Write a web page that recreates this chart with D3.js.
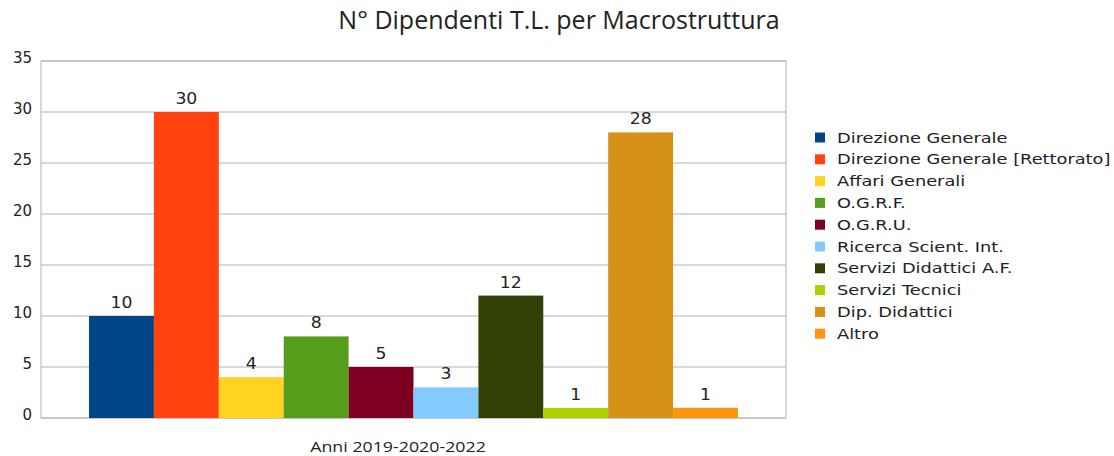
<!DOCTYPE html>
<html>
<head>
<meta charset="utf-8">
<script src="https://cdn.jsdelivr.net/npm/d3@7"></script>
<style>
  body { margin: 0; background: #fff; }
  text { fill: #222; }
</style>
</head>
<body>
<div id="chart"></div>
<script>
'use strict';

var categories = ['Direzione Generale', 'Direzione Generale [Rettorato]', 'Affari Generali',
  'O.G.R.F.', 'O.G.R.U.', 'Ricerca Scient. Int.', 'Servizi Didattici A.F.',
  'Servizi Tecnici', 'Dip. Didattici', 'Altro'];
var values = [10, 30, 4, 8, 5, 3, 12, 1, 28, 1];
var colors = ['#004586', '#ff420e', '#ffd320', '#579d1c', '#7e0021', '#83caff',
  '#314004', '#aecf00', '#d69118', '#ff950e'];
var yTicks = [0, 5, 10, 15, 20, 25, 30, 35];
var groupLabel = 'Anni 2019-2020-2022';

var width = 1114, height = 456;
var plot = {left: 41, right: 786, top: 61, bottom: 418};
var stretch = 1.27; // the reference text is drawn a little wide

var svg = d3.select('#chart').append('svg')
    .attr('width', width)
    .attr('height', height);

var y = d3.scaleLinear().domain([0, 35]).range([plot.bottom, plot.top]);

// one group band, bars side by side inside it
var x0 = d3.scaleBand().domain([groupLabel])
    .range([plot.left, plot.right]).paddingOuter(0.074).paddingInner(0);
var x1 = d3.scaleBand().domain(categories).range([0, x0.bandwidth()]);

// grid lines
svg.append('g').selectAll('line')
  .data(yTicks)
  .enter().append('line')
    .attr('x1', plot.left).attr('x2', plot.right)
    .attr('y1', function(d) { return y(d); })
    .attr('y2', function(d) { return y(d); })
    .attr('stroke', '#b3b3b3').attr('stroke-width', 1);

// plot border
svg.append('rect')
    .attr('x', plot.left).attr('y', plot.top)
    .attr('width', plot.right - plot.left).attr('height', plot.bottom - plot.top)
    .attr('fill', 'none').attr('stroke', '#b3b3b3');

var yAxis = d3.axisLeft(y).tickValues(yTicks).tickSize(0).tickPadding(9);
var gy = svg.append('g').attr('transform', 'translate(' + plot.left + ',0)').call(yAxis);
gy.select('.domain').remove();
gy.selectAll('text')
    .style('font-family', 'DejaVu Sans').style('font-size', '15px')
    .attr('fill', '#222').attr('dy', '0.1em');

var g = svg.append('g').attr('transform', 'translate(' + x0(groupLabel) + ',0)');

g.selectAll('rect.bar')
  .data(values)
  .enter().append('rect')
    .attr('class', 'bar')
    .attr('x', function(d, i) { return x1(categories[i]); })
    .attr('y', function(d) { return y(d); })
    .attr('width', x1.bandwidth())
    .attr('height', function(d) { return y(0) - y(d); })
    .attr('fill', function(d, i) { return colors[i]; });

g.selectAll('text.val')
  .data(values)
  .enter().append('text')
    .attr('class', 'val')
    .attr('transform', function(d, i) {
      return 'translate(' + (x1(categories[i]) + x1.bandwidth() / 2) + ',' + (y(d) - 8) + ') scale(1.15,1)';
    })
    .attr('text-anchor', 'middle')
    .style('font-family', 'DejaVu Sans').style('font-size', '15px')
    .text(function(d) { return d; });

svg.append('text')
    .attr('transform', 'translate(398,452) scale(' + stretch + ',1)')
    .attr('text-anchor', 'middle')
    .style('font-family', 'Open Sans').style('font-size', '14px')
    .text(groupLabel);

svg.append('text')
    .attr('x', 559)
    .attr('y', 29)
    .attr('text-anchor', 'middle')
    .style('font-family', 'Open Sans').style('font-size', '25px')
    .text('N° Dipendenti T.L. per Macrostruttura');

// legend
var legend = svg.append('g').selectAll('g')
  .data(categories)
  .enter().append('g')
    .attr('transform', function(d, i) { return 'translate(815,' + (137.5 + i * 21.8) + ')'; });

legend.append('rect')
    .attr('x', 0).attr('y', -5)
    .attr('width', 10).attr('height', 10)
    .attr('fill', function(d, i) { return colors[i]; });

legend.append('text')
    .attr('transform', 'translate(22,0) scale(' + stretch + ',1)')
    .attr('dy', '0.36em')
    .style('font-family', 'DejaVu Sans').style('font-size', '14px')
    .text(function(d) { return d; });
</script>
</body>
</html>
